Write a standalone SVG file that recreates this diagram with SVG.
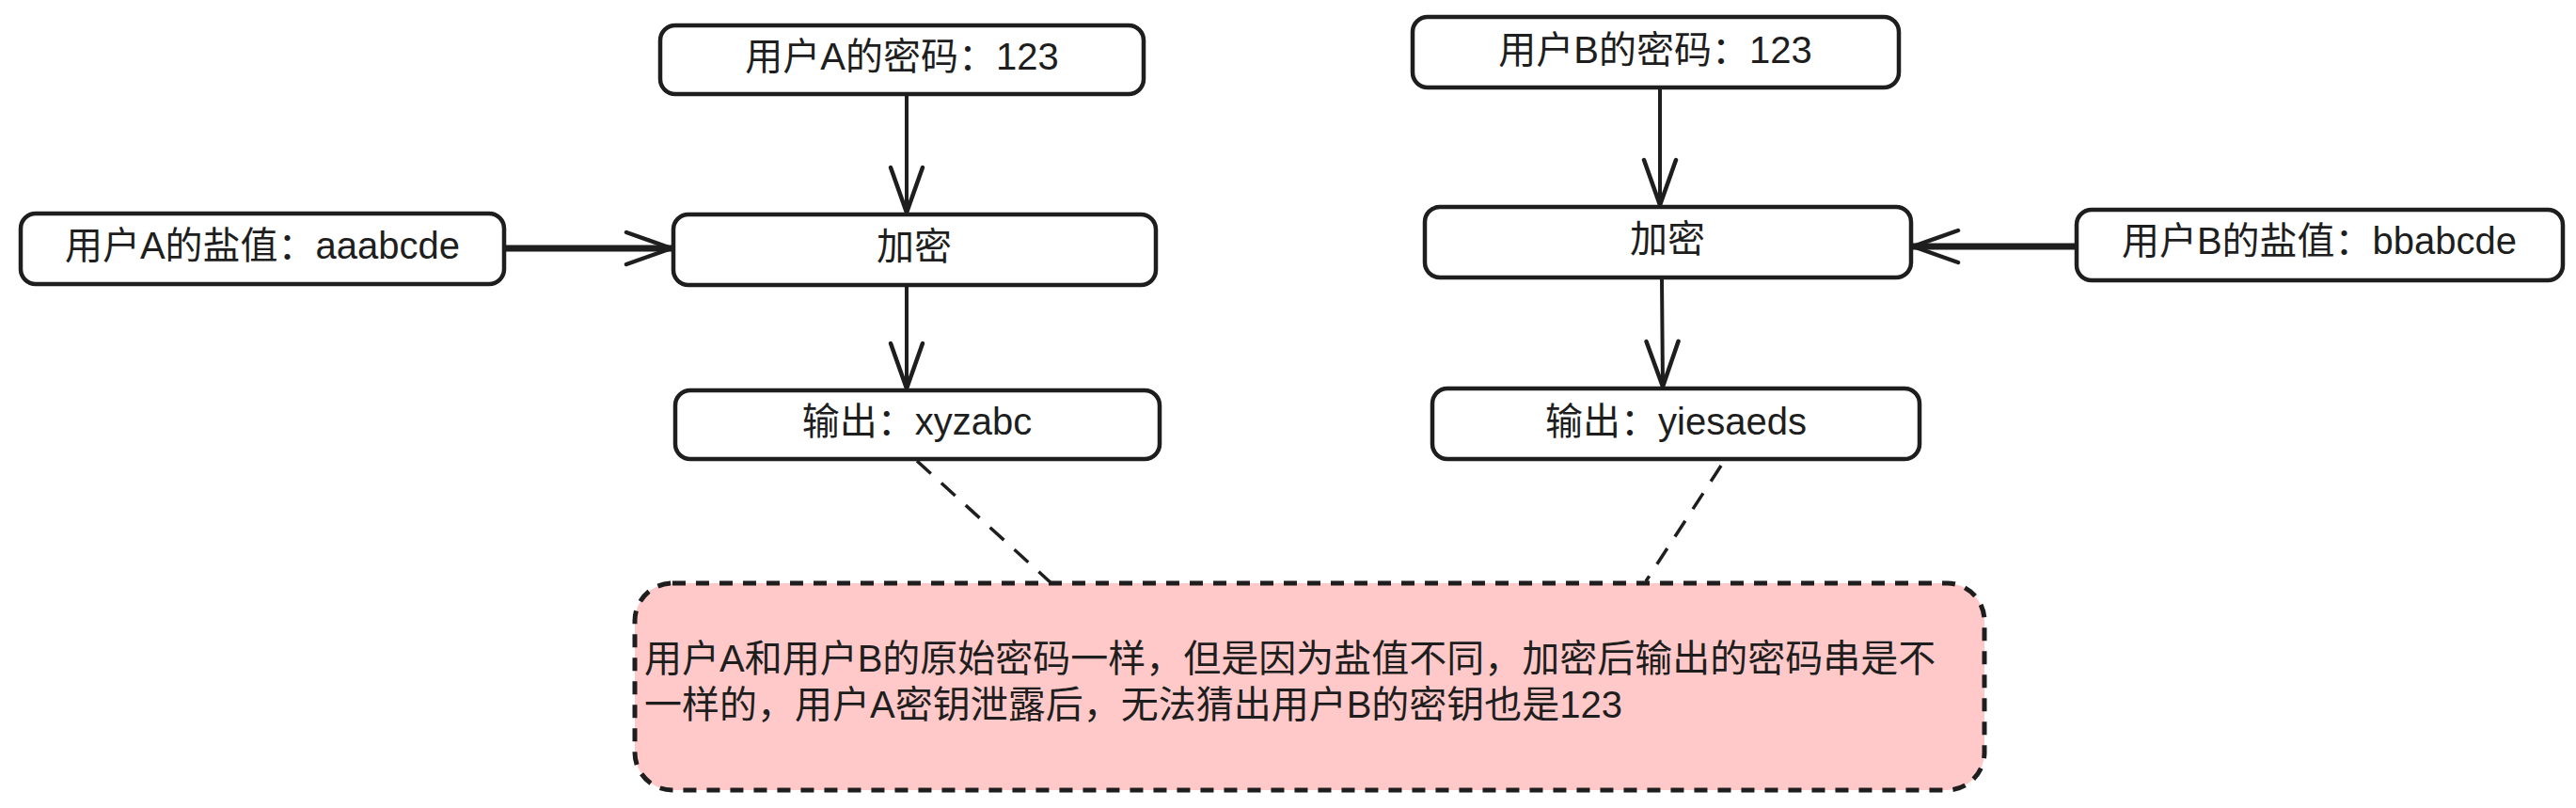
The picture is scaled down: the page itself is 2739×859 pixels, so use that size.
<svg xmlns="http://www.w3.org/2000/svg" width="2739" height="859" viewBox="0 0 2739 859">
<defs>
<style>
.box{fill:#ffffff;stroke:#1e1e1e;stroke-width:4.5}
.note{fill:#ffc9c9;stroke:#1e1e1e;stroke-width:5;stroke-dasharray:14 11}
.t{font-family:"Liberation Sans","Noto Sans CJK SC",sans-serif;font-size:40px;fill:#1e1e1e}
.c{text-anchor:middle}
.arr{fill:none;stroke:#1e1e1e;stroke-width:4;stroke-linecap:round}
.thick{stroke-width:7}
.dash{fill:none;stroke:#1e1e1e;stroke-width:3.5;stroke-dasharray:20 15}
</style>
<marker id="ah" markerUnits="userSpaceOnUse" markerWidth="60" markerHeight="44" viewBox="0 0 60 44" refX="52" refY="22" orient="auto">
<path d="M4,5 L52,22 L4,39" fill="none" stroke="#1e1e1e" stroke-width="4.5" stroke-linecap="round" stroke-linejoin="round"/>
</marker>
</defs>
<rect width="2739" height="859" fill="#ffffff"/>
<g id="connectors">
<line class="arr" x1="964" y1="102" x2="964" y2="226" marker-end="url(#ah)"/>
<line class="arr" x1="964" y1="305" x2="964" y2="413" marker-end="url(#ah)"/>
<line class="arr thick" x1="538" y1="264" x2="714" y2="264" marker-end="url(#ah)"/>
<line class="arr" x1="1765" y1="95" x2="1765" y2="218" marker-end="url(#ah)"/>
<line class="arr" x1="1767" y1="297" x2="1768" y2="411" marker-end="url(#ah)"/>
<line class="arr thick" x1="2206" y1="262" x2="2034" y2="262" marker-end="url(#ah)"/>
<line class="dash" x1="975" y1="490" x2="1120" y2="622"/>
<line class="dash" x1="1830" y1="495" x2="1750" y2="618"/>
</g>
<g id="pwdA">
<rect class="box" x="702" y="27" width="514" height="73" rx="16"/>
<text class="t c" x="959" y="74">用户A的密码：123</text>
</g>
<g id="saltA">
<rect class="box" x="22" y="227" width="514" height="75" rx="16"/>
<text class="t c" x="279" y="275">用户A的盐值：aaabcde</text>
</g>
<g id="encA">
<rect class="box" x="716" y="228" width="513" height="75" rx="16"/>
<text class="t c" x="972" y="276">加密</text>
</g>
<g id="outA">
<rect class="box" x="718" y="415" width="515" height="73" rx="16"/>
<text class="t c" x="975" y="462">输出：xyzabc</text>
</g>
<g id="pwdB">
<rect class="box" x="1502" y="18" width="517" height="75" rx="16"/>
<text class="t c" x="1760" y="67">用户B的密码：123</text>
</g>
<g id="encB">
<rect class="box" x="1515" y="220" width="517" height="75" rx="16"/>
<text class="t c" x="1773" y="268">加密</text>
</g>
<g id="saltB">
<rect class="box" x="2208" y="223" width="517" height="75" rx="16"/>
<text class="t c" x="2466" y="270">用户B的盐值：bbabcde</text>
</g>
<g id="outB">
<rect class="box" x="1523" y="413" width="518" height="75" rx="16"/>
<text class="t c" x="1782" y="462">输出：yiesaeds</text>
</g>
<g id="note">
<rect class="note" x="675" y="620" width="1435" height="220" rx="40"/>
<text class="t" x="685" y="714">用户A和用户B的原始密码一样，但是因为盐值不同，加密后输出的密码串是不</text>
<text class="t" x="685" y="763">一样的，用户A密钥泄露后，无法猜出用户B的密钥也是123</text>
</g>
</svg>
